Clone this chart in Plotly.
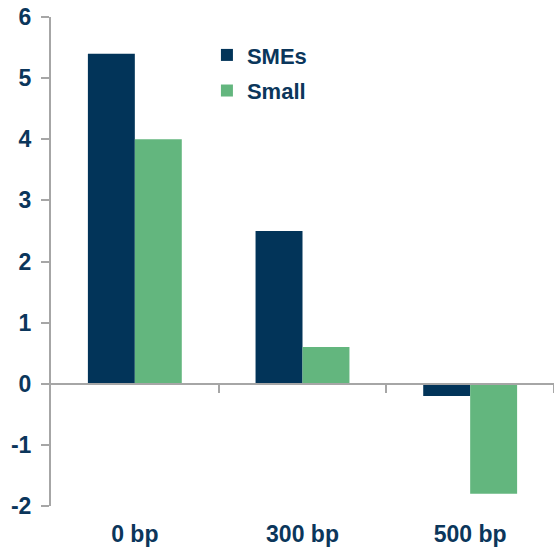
import plotly.graph_objects as go

categories = ["0 bp", "300 bp", "500 bp"]
smes = [5.4, 2.5, -0.2]
small = [4.0, 0.6, -1.8]
y_ticks = [-2, -1, 0, 1, 2, 3, 4, 5, 6]

navy = "#023459"
green = "#63B67E"
txt = "#0B365B"
gray = "#A6A6A6"

fig = go.Figure()
fig.add_trace(go.Bar(name="<b>SMEs</b>", x=categories, y=smes, marker_color=navy,
                     marker_line_width=0, legendgroup="a"))
fig.add_trace(go.Bar(name="<b>Small</b>", x=categories, y=small, marker_color=green,
                     marker_line_width=0, legendgroup="b"))

# x-axis with ticks at category boundaries, placed at y=0
fig.add_trace(go.Scatter(x=[0.5], y=[0], xaxis="x2", mode="markers",
                         marker=dict(opacity=0), showlegend=False, hoverinfo="skip"))

fig.update_layout(
    width=554, height=548,
    margin=dict(l=51, r=0, t=17, b=42),
    plot_bgcolor="white", paper_bgcolor="white",
    barmode="group", bargap=0.44, bargroupgap=0,
    font=dict(family="Liberation Sans", color=txt, size=20),
    xaxis=dict(type="category", showline=False, ticks="", showgrid=False,
               tickvals=categories, ticktext=["<b>%s</b>" % c for c in categories],
               tickfont=dict(size=23, color=txt), zeroline=False,
               range=[-0.5, 2.5], ticklabelstandoff=12),
    xaxis2=dict(overlaying="x", anchor="free", position=0.25, range=[-0.5, 2.5],
                showline=True, linecolor=gray, linewidth=2, ticks="outside",
                tickvals=[0.5, 1.5, 2.5], ticklen=8, tickcolor=gray, tickwidth=2,
                showticklabels=False, showgrid=False, zeroline=False),
    yaxis=dict(range=[-2, 6], tickvals=y_ticks,
               ticktext=["<b>%d</b>" % v for v in y_ticks],
               showline=True, linecolor=gray,
               linewidth=2, ticks="outside", ticklen=8, tickcolor=gray, tickwidth=2,
               showgrid=False, zeroline=False, ticklabelstandoff=5,
               tickfont=dict(size=23, color=txt)),
    legend=dict(x=0.31, y=0.965, xanchor="left", yanchor="top",
                font=dict(size=22, color=txt),
                traceorder="grouped", tracegroupgap=4, bgcolor="rgba(0,0,0,0)",
                itemwidth=30),
    showlegend=True,
)

fig.write_html("out.html")
